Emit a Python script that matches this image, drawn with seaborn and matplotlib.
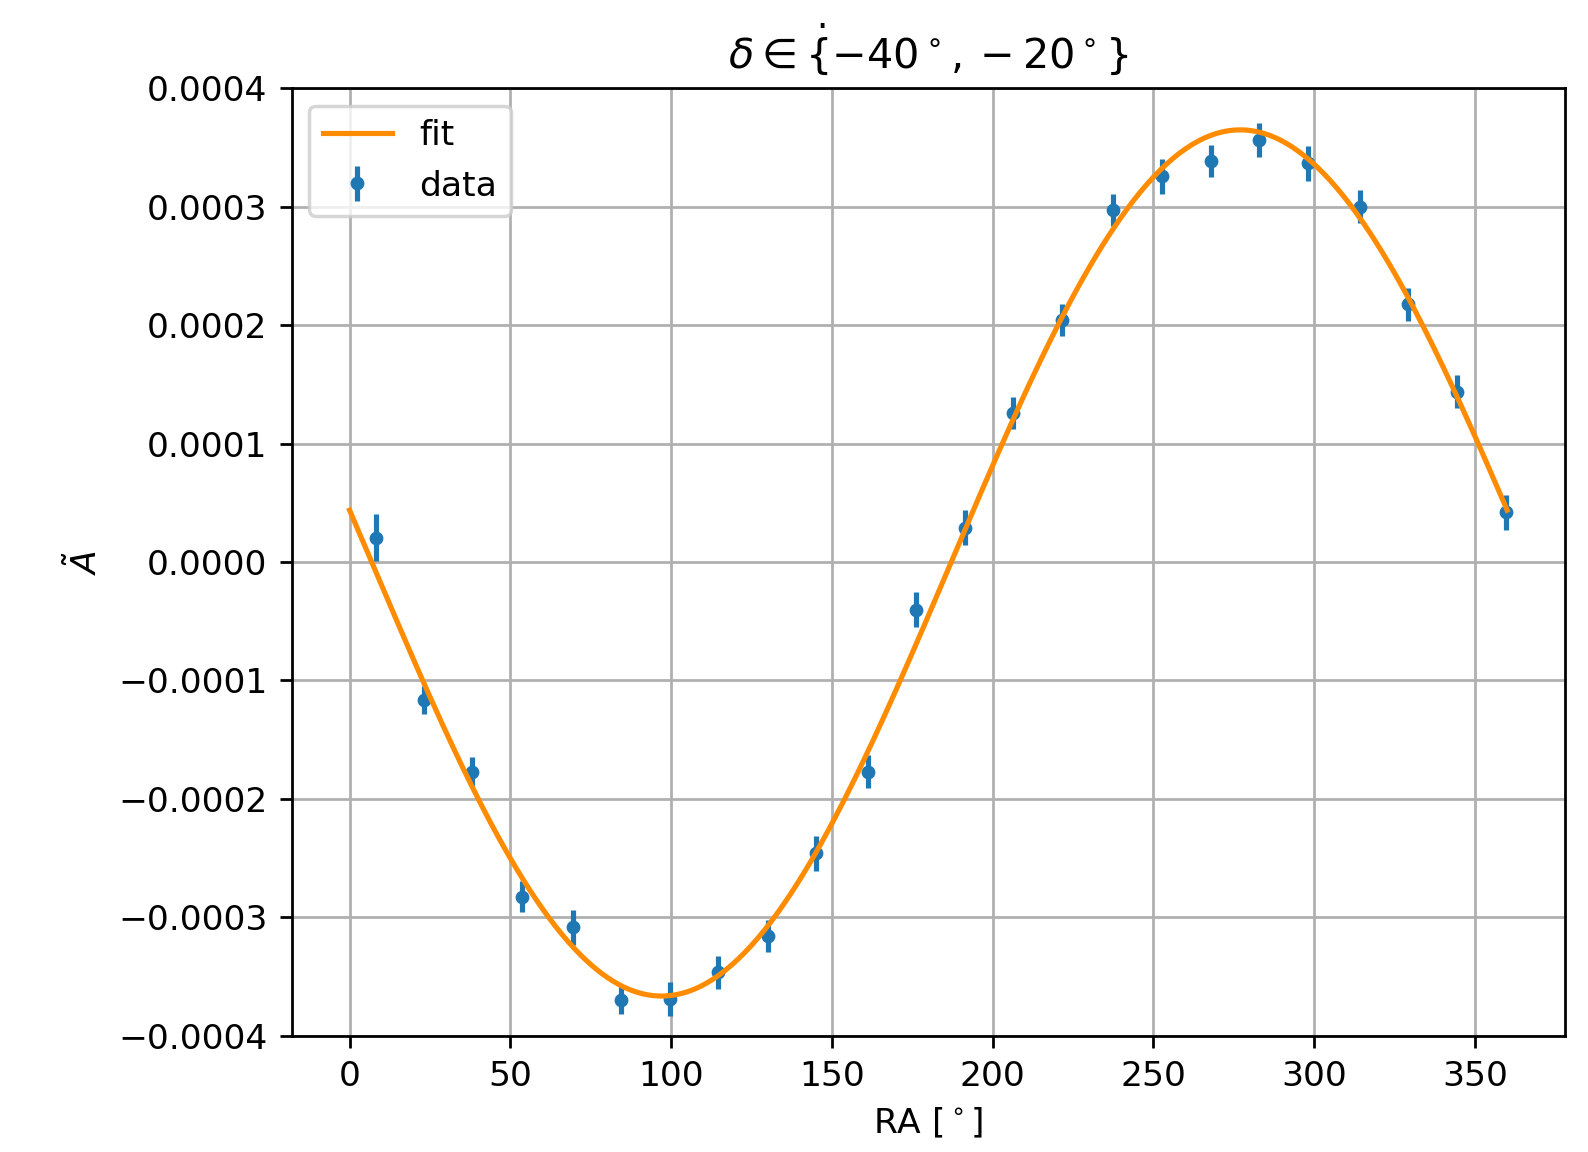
import numpy as np
import pandas as pd
import matplotlib
matplotlib.use("Agg")
import matplotlib.pyplot as plt
import seaborn as sns

# ---- data ----
ra_deg = [8.2, 23.3, 38.2, 53.5, 69.5, 84.5, 99.5, 114.7, 130.1, 145.1, 161.1, 176.2,
          191.3, 206.4, 221.7, 237.5, 252.7, 267.9, 282.9, 298.0, 314.1, 329.3, 344.3, 359.6]
a_tilde = [0.205e-4, -1.165e-4, -1.77e-4, -2.826e-4, -3.085e-4, -3.70e-4, -3.69e-4, -3.464e-4,
           -3.158e-4, -2.46e-4, -1.77e-4, -0.405e-4, 0.29e-4, 1.26e-4, 2.043e-4, 2.972e-4,
           3.256e-4, 3.386e-4, 3.563e-4, 3.366e-4, 3.00e-4, 2.176e-4, 1.438e-4, 0.42e-4]
a_err = [0.20e-4, 0.12e-4, 0.12e-4, 0.13e-4, 0.145e-4, 0.12e-4, 0.14e-4, 0.14e-4,
         0.135e-4, 0.15e-4, 0.14e-4, 0.148e-4, 0.146e-4, 0.135e-4, 0.137e-4, 0.138e-4,
         0.15e-4, 0.137e-4, 0.14e-4, 0.15e-4, 0.138e-4, 0.137e-4, 0.14e-4, 0.148e-4]

# fit parameters (cosine dipole fit)
fit_amplitude = 3.657e-4
fit_phase_deg = 277.0
fit_offset = -0.008e-4
fit_ra = np.linspace(0, 360, 361)
fit_vals = fit_offset + fit_amplitude * np.cos(np.deg2rad(fit_ra - fit_phase_deg))

fit_df = pd.DataFrame({"RA": fit_ra, "A": fit_vals})

W, H, DPI = 1588, 1152, 248
fig = plt.figure(figsize=(W / DPI, H / DPI), dpi=DPI)
ax = fig.add_axes([0.18369, 0.10095, 0.80183, 0.82240])

sns.lineplot(data=fit_df, x="RA", y="A", color="darkorange", linewidth=1.5,
             label="fit", ax=ax, zorder=3)
ax.errorbar(ra_deg, a_tilde, yerr=a_err, fmt=".", color="#1f77b4",
            label="data", zorder=2)

ax.set_xlim(-18, 378)
ax.set_ylim(-0.0004, 0.0004)
ax.set_yticks([-0.0004, -0.0003, -0.0002, -0.0001, 0.0, 0.0001, 0.0002, 0.0003, 0.0004])
ax.set_xticks([0, 50, 100, 150, 200, 250, 300, 350])
ax.grid(True)
ax.set_axisbelow(True)

ax.set_xlabel(r"RA [$^\circ$]")
ax.set_ylabel(r"$\tilde{A}$")
ax.set_title(r"$\delta \in \dot{\{}{-40^\circ}, -20^\circ\}$")

handles, labels = ax.get_legend_handles_labels()
order = [labels.index("fit"), labels.index("data")]
ax.legend([handles[i] for i in order], [labels[i] for i in order], loc="upper left")

fig.savefig("out.png", dpi=DPI)
